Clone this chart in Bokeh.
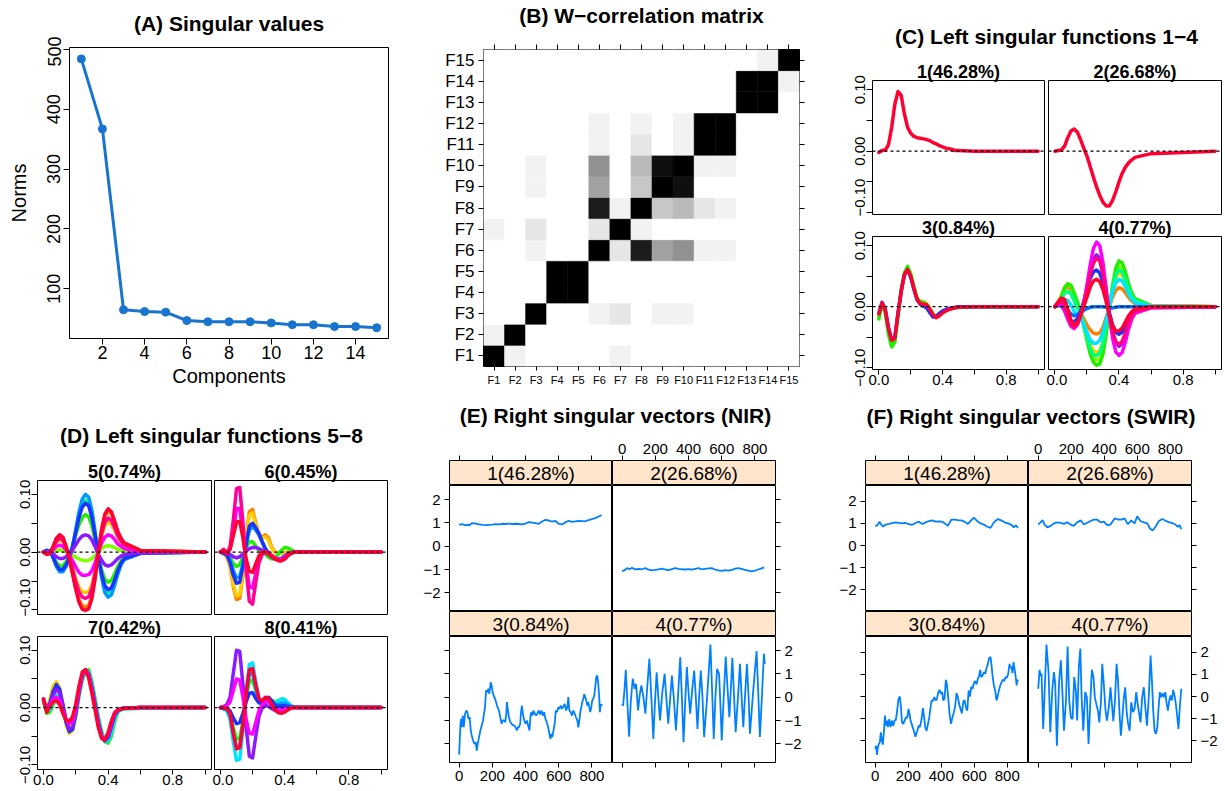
from bokeh.plotting import figure
from bokeh.layouts import row, column
from bokeh.models import (FixedTicker, Span, LinearAxis, Label, Range1d,
                          ColumnDataSource, CustomJSTickFormatter)
from bokeh.embed import file_html
from bokeh.resources import INLINE

FONT = "Liberation Sans"

# ---------------- (A) singular values ----------------
COMPONENTS = list(range(1, 16))
NORMS = [484, 367, 65, 62, 61, 47, 45, 45, 45, 43, 40, 40, 37, 37, 35]

# ---------------- (B) w-correlation matrix (rows F1..F15, cols F1..F15) ----------------
W_LABELS = [f"F{i}" for i in range(1, 16)]
W_CORR = [
    [1, .05, 0, 0, 0, 0, .05, 0, 0, 0, 0, 0, 0, 0, 0],
    [.05, 1, 0, 0, 0, 0, 0, 0, 0, 0, 0, 0, 0, 0, 0],
    [0, 0, 1, 0, 0, .05, .10, 0, .05, .05, 0, 0, 0, 0, 0],
    [0, 0, 0, 1, 1, 0, 0, 0, 0, 0, 0, 0, 0, 0, 0],
    [0, 0, 0, 1, 1, 0, 0, 0, 0, 0, 0, 0, 0, 0, 0],
    [0, 0, .05, 0, 0, 1, .10, .89, .37, .43, .05, .05, 0, 0, 0],
    [.05, 0, .10, 0, 0, .10, 1, .05, 0, 0, 0, 0, 0, 0, 0],
    [0, 0, 0, 0, 0, .89, .05, 1, .22, .27, .10, .05, 0, 0, 0],
    [0, 0, .05, 0, 0, .37, 0, .22, 1, .94, 0, 0, 0, 0, 0],
    [0, 0, .05, 0, 0, .43, 0, .27, .94, 1, .05, .05, 0, 0, 0],
    [0, 0, 0, 0, 0, .05, 0, .10, 0, .05, 1, 1, 0, 0, 0],
    [0, 0, 0, 0, 0, .05, 0, .05, 0, .05, 1, 1, 0, 0, 0],
    [0, 0, 0, 0, 0, 0, 0, 0, 0, 0, 0, 0, 1, 1, 0],
    [0, 0, 0, 0, 0, 0, 0, 0, 0, 0, 0, 0, 1, 1, .05],
    [0, 0, 0, 0, 0, 0, 0, 0, 0, 0, 0, 0, 0, .05, 1],
]

# ---------------- (C)/(D) left singular functions (values x 1000) ----------------
X_GRID = [0.00, 0.02, 0.04, 0.06, 0.08, 0.10, 0.12, 0.14, 0.16, 0.18, 0.20, 0.22, 0.24, 0.26,
          0.28, 0.30, 0.32, 0.34, 0.36, 0.38, 0.40, 0.42, 0.44, 0.46, 0.48, 0.50, 0.60, 1.00]
C_TITLES = ["1(46.28%)", "2(26.68%)", "3(0.84%)", "4(0.77%)"]
D_TITLES = ["5(0.74%)", "6(0.45%)", "7(0.42%)", "8(0.41%)"]

ORANGE, YELLOW, CHART, GREEN, SPRING = "#FF8000", "#FFCC00", "#80FF00", "#22EE00", "#00FF80"
CYAN, AZURE, AZURE2, BLUE, VIOLET = "#00E5FF", "#0099FF", "#0070FF", "#1A33FF", "#8C1AFF"
MAGENTA, PINK, ROSE, TOPRED = "#FF00FF", "#FF0099", "#FF0080", "#FF0033"

C1_COLORS = [TOPRED]
C1_CURVES = [[-2, 1, 2, 10, 38, 76, 97, 91, 61, 39, 29, 24, 22, 21, 20, 19, 17, 14, 12, 9, 7, 5, 4, 3, 1, 1, 0, 0]]
C2_COLORS = [TOPRED]
C2_CURVES = [[0, 1, 2, 8, 22, 33, 36, 31, 19, 5, -8, -25, -42, -58, -72, -83, -89, -89, -80, -66, -50, -36, -26, -19, -14, -10, -4, 0]]
C3_COLORS = [YELLOW, GREEN, BLUE, TOPRED]
C3_CURVES = [
    [-16, 5, -8, -40, -62, -56, -14, 25, 54, 64, 53, 32, 14, 9, 8, 5, -3, -12, -17, -15, -10, -7, -4, -3, -2, -1, 0, 0],
    [-20, 4, -10, -45, -66, -58, -15, 25, 55, 66, 54, 32, 14, 8, 7, 4, -4, -12, -17, -14, -9, -6, -4, -3, -2, -1, 0, 0],
    [-10, 7, -4, -34, -54, -50, -10, 26, 52, 60, 48, 28, 11, 4, 1, -2, -10, -17, -16, -11, -7, -5, -3, -2, -1, 0, 0, 0],
    [-12, 6, -5, -35, -55, -52, -12, 25, 52, 61, 50, 30, 12, 5, 4, 3, -4, -13, -18, -15, -10, -7, -5, -3, -2, -1, 0, 0],
]
C4_COLORS = [ORANGE, YELLOW, CHART, GREEN, SPRING, CYAN, AZURE2, BLUE, VIOLET, MAGENTA, ROSE, TOPRED]
C4_CURVES = [
    [0, 7, 18, 30, 33, 28, 14, 1, -10, -20, -30, -38, -43, -45, -43, -34, -18, 0, 16, 27, 31, 29, 23, 15, 9, 5, 1, 0],
    [0, 6, 18, 32, 37, 33, 18, 4, -10, -27, -46, -62, -72, -75, -72, -58, -32, -2, 27, 47, 55, 52, 41, 27, 16, 9, 1, 0],
    [0, 5, 17, 31, 38, 35, 21, 6, -9, -29, -51, -71, -84, -88, -85, -70, -40, -4, 31, 56, 67, 64, 50, 33, 19, 11, 2, 0],
    [0, 4, 15, 30, 37, 35, 22, 8, -8, -30, -55, -77, -91, -96, -94, -78, -45, -5, 35, 63, 75, 72, 57, 37, 22, 13, 2, 0],
    [0, 3, 12, 22, 25, 21, 10, -2, -14, -32, -50, -68, -79, -80, -76, -60, -33, -2, 30, 52, 60, 57, 45, 29, 17, 10, 1, 0],
    [0, 3, 8, 12, 10, 3, -8, -14, -18, -28, -42, -54, -60, -60, -55, -42, -22, 2, 24, 39, 45, 42, 33, 21, 12, 7, 1, 0],
    [0, 2, 4, 2, -5, -12, -15, -13, -10, -6, -3, -1, 0, 0, 0, 0, -1, -2, -2, -1, 0, 0, 0, 0, 0, 0, 0, 0],
    [0, 2, 2, -6, -16, -24, -25, -20, -8, 8, 28, 46, 57, 60, 55, 40, 16, -10, -30, -42, -45, -42, -32, -20, -11, -6, -1, 0],
    [0, 3, 3, -6, -20, -30, -33, -27, -13, 6, 32, 58, 78, 85, 79, 58, 24, -13, -43, -60, -65, -61, -47, -29, -16, -9, -1, 0],
    [0, 4, 6, -4, -20, -32, -36, -30, -15, 5, 35, 68, 95, 106, 100, 72, 30, -15, -52, -74, -80, -75, -58, -36, -20, -11, -2, 0],
    [0, 6, 9, 2, -13, -28, -34, -29, -15, 3, 27, 52, 71, 80, 75, 53, 21, -14, -41, -57, -62, -57, -43, -27, -14, -8, -1, 0],
    [0, 8, 14, 12, -4, -22, -30, -26, -14, 0, 16, 32, 42, 45, 41, 28, 8, -14, -31, -40, -40, -35, -25, -15, -8, -4, 0, 0],
]
D5_COLORS = [ORANGE, YELLOW, CHART, GREEN, SPRING, AZURE, BLUE, VIOLET, MAGENTA, PINK, TOPRED]
D5_CURVES = [
    [0, -4, -2, 9, 23, 28, 24, 9, -11, -36, -61, -82, -93, -95, -92, -75, -42, 0, 38, 62, 70, 66, 51, 34, 23, 15, 3, 0],
    [0, -3, -1, 7, 17, 21, 18, 7, -8, -27, -46, -61, -69, -70, -68, -56, -32, 0, 28, 46, 52, 48, 38, 25, 17, 11, 2, 0],
    [0, -1, 0, 1, 3, 4, 3, 1, -1, -5, -9, -12, -14, -15, -14, -11, -6, 0, 6, 10, 11, 10, 8, 5, 3, 2, 0, 0],
    [0, 2, 1, -7, -18, -24, -24, -17, -6, 10, 30, 48, 60, 65, 61, 46, 20, -8, -31, -47, -52, -49, -38, -25, -15, -9, -1, 0],
    [0, 3, 2, -9, -23, -31, -31, -23, -9, 9, 36, 63, 83, 90, 85, 65, 31, -7, -40, -63, -70, -67, -52, -34, -20, -12, -2, 0],
    [0, 3, 2, -10, -25, -34, -34, -25, -10, 10, 40, 70, 92, 100, 95, 72, 35, -8, -45, -70, -78, -74, -58, -38, -22, -13, -2, 0],
    [0, 3, 2, -9, -22, -30, -30, -22, -9, 9, 34, 60, 78, 85, 80, 60, 28, -8, -38, -58, -65, -62, -49, -32, -19, -11, -2, 0],
    [0, 1, 1, -3, -8, -11, -11, -8, -3, 4, 13, 22, 28, 30, 28, 21, 9, -4, -14, -22, -24, -22, -17, -11, -7, -4, -1, 0],
    [0, -2, -1, 4, 10, 12, 10, 4, -5, -15, -26, -35, -40, -40, -39, -32, -18, 0, 16, 26, 30, 28, 22, 14, 10, 6, 1, 0],
    [0, -3, -2, 8, 19, 24, 21, 8, -9, -30, -51, -69, -78, -80, -77, -63, -36, 0, 32, 52, 59, 55, 43, 28, 19, 13, 2, 0],
    [0, -4, -2, 10, 24, 30, 26, 10, -12, -38, -65, -87, -99, -101, -98, -80, -45, 0, 40, 66, 75, 70, 54, 36, 24, 16, 3, 0],
]
D6_COLORS = [ORANGE, YELLOW, GREEN, AZURE, BLUE, VIOLET, MAGENTA, PINK, TOPRED]
D6_CURVES = [
    [0, -3, -8, -25, -60, -82, -80, -40, 25, 70, 74, 50, 30, 26, 30, 24, 8, 0, -2, -2, -1, 0, 0, 0, 0, 0, 0, 0],
    [0, -3, -7, -22, -55, -76, -74, -36, 22, 64, 68, 46, 28, 24, 27, 20, 6, -1, -2, -2, -1, 0, 0, 0, 0, 0, 0, 0],
    [0, -1, -3, -10, -20, -25, -22, -8, 8, 18, 18, 10, 3, 0, -4, -9, -12, -10, -4, 3, 8, 7, 4, 1, 0, 0, 0, 0],
    [0, -2, -4, -14, -32, -44, -42, -20, 12, 38, 44, 38, 30, 17, 5, -3, -9, -12, -13, -11, -7, -3, -1, 0, 0, 0, 0, 0],
    [0, -2, -5, -18, -40, -54, -52, -25, 15, 45, 50, 42, 32, 18, 6, -2, -8, -12, -13, -12, -8, -4, -1, 0, 0, 0, 0, 0],
    [0, 0, 0, -4, -8, -10, -8, -3, 2, 6, 8, 8, 6, 3, 0, -4, -8, -11, -12, -11, -7, -3, -1, 0, 0, 0, 0, 0],
    [0, 3, 0, 5, 35, 75, 75, 32, -20, -60, -62, -36, -12, -3, 0, -2, -6, -10, -13, -13, -10, -5, -2, 0, 0, 0, 0, 0],
    [0, 5, -3, 10, 55, 110, 112, 52, -30, -85, -90, -52, -18, -4, 1, -1, -6, -10, -14, -15, -12, -6, -2, 0, 0, 0, 0, 0],
    [0, 3, -2, 5, 28, 52, 53, 25, -12, -33, -35, -20, -6, 0, 0, -3, -8, -12, -15, -15, -12, -6, -2, 0, 0, 0, 0, 0],
]
D7_COLORS = [YELLOW, GREEN, CYAN, BLUE, VIOLET, MAGENTA, TOPRED]
D7_CURVES = [
    [15, -5, 15, 38, 45, 35, 5, -30, -45, -40, -10, 30, 58, 66, 55, 30, 0, -30, -52, -60, -54, -35, -15, -6, -3, -1, 0, 0],
    [10, -10, -8, 5, 15, 12, -5, -25, -40, -38, -15, 20, 48, 62, 66, 45, 15, -18, -42, -58, -62, -50, -25, -8, -4, -2, -1, 0],
    [12, -6, -4, 10, 22, 20, 0, -22, -38, -36, -12, 24, 52, 64, 62, 40, 10, -22, -46, -59, -58, -44, -20, -7, -3, -2, -1, 0],
    [14, -4, 8, 28, 40, 32, 5, -25, -42, -38, -10, 28, 56, 66, 58, 34, 4, -26, -50, -58, -52, -34, -14, -5, -3, -1, 0, 0],
    [14, -4, 6, 22, 32, 26, 4, -22, -38, -34, -8, 28, 55, 66, 58, 33, 3, -28, -50, -57, -50, -32, -13, -5, -2, -1, 0, 0],
    [15, -6, 4, 14, 18, 12, -6, -22, -28, -24, -2, 32, 58, 66, 55, 28, -2, -32, -52, -56, -46, -26, -10, -4, -2, -1, 0, 0],
    [15, -8, 2, 10, 12, 5, -10, -22, -24, -16, 6, 38, 62, 66, 52, 25, -5, -35, -54, -56, -44, -24, -9, -4, -2, -1, 0, 0],
]
D8_COLORS = [GREEN, CYAN, AZURE, BLUE, VIOLET, MAGENTA, TOPRED]
D8_CURVES = [
    [0, -1, -3, -12, -35, -55, -54, -24, 18, 46, 48, 30, 12, 8, 14, 16, 12, 10, 12, 15, 14, 8, 3, 1, 0, 0, 0, 0],
    [0, -2, -5, -20, -60, -92, -90, -40, 30, 75, 78, 45, 15, 5, 8, 10, 8, 8, 12, 15, 14, 8, 3, 1, 0, 0, 0, 0],
    [0, -2, -4, -15, -45, -70, -68, -30, 22, 58, 60, 35, 12, 5, 10, 14, 10, 6, 6, 8, 8, 5, 2, 1, 0, 0, 0, 0],
    [0, -1, -2, -6, -18, -28, -26, -10, 10, 25, 26, 16, 8, 8, 14, 18, 12, 4, 2, 3, 3, 2, 1, 0, 0, 0, 0, 0],
    [0, 2, 5, 18, 60, 100, 98, 40, -35, -85, -88, -50, -15, 0, 4, 2, -2, -5, -6, -5, -3, -1, 0, 0, 0, 0, 0, 0],
    [0, 1, 3, 10, 30, 50, 48, 18, -20, -45, -46, -26, -5, 5, 10, 10, 4, -2, -4, -4, -2, -1, 0, 0, 0, 0, 0, 0],
    [0, 0, -2, -10, -45, -72, -70, -30, 25, 66, 68, 40, 15, 12, 18, 16, 6, -4, -9, -10, -8, -4, -1, 0, 0, 0, 0, 0],
]

# ---------------- (E)/(F) right singular vectors ----------------
PCT = ["1(46.28%)", "2(26.68%)", "3(0.84%)", "4(0.77%)"]
V_TICKS_X = [0, 200, 400, 600, 800]
V_TICKS_Y = [-2, -1, 0, 1, 2]

E1_X = [0, 10, 20, 30, 40, 50, 60, 70, 80, 90, 100, 120, 140, 160, 180, 200, 220, 240, 260, 280, 300,
        320, 340, 360, 380, 400, 420, 440, 460, 480, 500, 520, 540, 560, 580, 600, 620, 640, 660, 680,
        700, 720, 740, 760, 780, 800, 820, 840, 858]
E1_Y = [0.93, 0.92, 0.95, 0.91, 0.89, 0.93, 0.88, 0.95, 0.99, 0.98, 0.97, 0.93, 0.91, 0.90, 0.91, 0.92,
        0.94, 0.93, 0.96, 0.95, 0.97, 0.95, 0.96, 0.95, 0.93, 0.97, 1.03, 1.01, 0.99, 0.96, 1.06, 1.13,
        1.10, 1.05, 1.08, 0.96, 0.93, 1.02, 1.09, 1.04, 1.06, 1.08, 1.07, 1.06, 1.12, 1.16, 1.20, 1.27, 1.33]
E2_X = [0, 15, 30, 45, 60, 80, 100, 120, 140, 160, 180, 200, 220, 240, 260, 280, 300, 320, 340, 360,
        380, 400, 420, 440, 460, 480, 500, 520, 540, 560, 580, 600, 620, 640, 660, 680, 700, 720, 740,
        760, 780, 800, 820, 840, 856]
E2_Y = [-1.07, -1.03, -0.94, -0.98, -0.93, -1.0, -0.97, -0.99, -0.94, -1.01, -1.04, -1.02, -0.99, -0.96,
        -1.0, -1.03, -0.98, -0.94, -0.97, -0.99, -1.0, -0.98, -1.01, -0.97, -0.94, -0.99, -0.97, -0.95,
        -0.94, -1.0, -1.04, -1.06, -1.03, -1.05, -1.02, -0.96, -0.94, -0.97, -1.02, -1.05, -1.08, -1.05,
        -1.0, -0.95, -0.91]
E3_X = [0, 8, 12, 16, 22, 28, 36, 44, 50, 56, 64, 70, 76, 84, 92, 100, 106, 112, 120, 128,
        136, 144, 150, 156, 162, 168, 176, 182, 190, 196, 202, 212, 220, 228, 236, 242, 248, 256, 262, 270,
        278, 284, 288, 294, 300, 308, 316, 324, 332, 340, 348, 354, 360, 368, 372, 378, 384, 392, 400, 408,
        416, 424, 430, 436, 442, 448, 456, 464, 472, 480, 488, 496, 504, 512, 520, 528, 536, 544, 550, 556,
        562, 568, 576, 582, 590, 598, 604, 612, 620, 628, 636, 644, 652, 658, 664, 672, 680, 688, 696, 704,
        712, 718, 724, 730, 736, 742, 748, 754, 760, 766, 772, 778, 784, 790, 796, 802, 808, 814, 820, 826,
        832, 838, 844, 848, 852, 858, 862]
E3_Y = [-2.46, -1.14, -0.93, -1.29, -0.79, -1.29, -0.71, -0.57, -0.64, -0.93,
        -0.86, -1.43, -1.64, -1.86, -2.0, -1.93, -2.29, -2.0, -1.71, -1.43,
        -1.21, -1.0, -0.71, -0.43, 0.29, 0.21, 0.36, 0.14, 0.64, 0.5,
        0.21, 0.0, -0.14, -0.36, -0.5, -0.64, -0.86, -1.14, -1.0, -1.0,
        -1.07, -0.71, -0.21, -0.57, -0.86, -1.07, -1.14, -1.21, -1.21, -1.29,
        -1.43, -1.29, -1.29, -1.14, -0.71, -0.36, -0.71, -1.0, -1.14, -1.0,
        -1.21, -1.43, -0.79, -0.64, -0.79, -0.57, -0.71, -0.79, -0.69, -0.57,
        -0.74, -0.57, -0.79, -0.64, -0.93, -1.07, -1.29, -1.57, -1.79, -1.57,
        -1.71, -1.43, -1.14, -0.57, -0.64, -0.43, -0.5, -0.36, -0.5, -0.4,
        -0.29, -0.57, -0.43, 0.0, -0.57, -0.64, -0.79, -0.57, -0.71, -0.86,
        -1.0, -1.29, -1.0, -0.64, -0.43, -0.21, -0.07, 0.14, 0.0, -0.14,
        -0.36, -0.21, -0.43, -0.64, -0.43, -0.14, -0.07, 0.07, 0.43, 0.86,
        0.93, 0.57, 0.0, -0.64, -0.36, -0.31, -0.36]
E4_X = [0, 6, 14, 22, 30, 42, 52, 64, 76, 84, 96, 106, 116, 128, 140, 152, 164, 176, 188, 198,
        208, 218, 228, 242, 256, 266, 278, 290, 300, 312, 324, 338, 350, 360, 370, 380, 390, 400, 410, 422,
        434, 444, 454, 464, 474, 484, 494, 512, 532, 542, 552, 562, 572, 584, 592, 600, 612, 624, 634, 646,
        656, 664, 674, 684, 698, 710, 720, 730, 740, 752, 762, 770, 790, 810, 820, 830, 842, 854, 860]
E4_Y = [-0.29, -0.36, 0.3, 1.17, 0.0, -1.69, -0.2, 0.79, 0.36, 0.57,
        -0.57, 0.1, 0.5, 0.0, -0.71, 0.5, 1.64, 0.0, -1.79, -0.2,
        1.07, 0.0, -1.0, 0.2, 1.0, 0.0, -1.14, 0.0, 0.93, -0.1,
        -1.43, 0.2, 1.71, 0.0, -1.93, -0.2, 1.29, 0.2, -0.71, 0.3,
        1.14, 0.0, -1.36, 0.0, 1.14, 0.0, -1.71, 0.0, 2.26, 0.3,
        -1.79, 0.0, 1.21, 1.0, -0.3, -1.86, 0.0, 1.74, 0.5, -0.86,
        0.5, 1.69, 0.1, -1.5, 0.0, 1.43, 0.0, -1.29, 0.0, 1.43,
        0.0, -1.57, 0.3, 1.97, 0.2, -1.71, 0.0, 1.86, 1.43]
F1_X = [0, 12, 26, 36, 48, 63, 83, 103, 123, 143, 164, 184, 204, 224, 244, 265, 285, 305, 325, 345,
        366, 386, 406, 426, 440, 461, 481, 501, 521, 541, 562, 582, 598, 618, 638, 658, 679, 699, 719, 743,
        764, 784, 804, 824, 840, 853, 865]
F1_Y = [0.88, 0.91, 1.08, 0.95, 0.86, 0.95, 0.98, 1.02, 1.05, 1.03, 1.0, 1.02, 0.97, 0.94, 1.02, 1.08,
        0.97, 1.05, 1.11, 1.14, 1.08, 1.09, 1.08, 0.98, 0.89, 1.17, 1.17, 1.15, 1.14, 1.08, 0.98, 1.15,
        1.26, 1.11, 1.0, 0.95, 0.85, 0.8, 1.05, 1.2, 1.14, 1.05, 1.0, 0.95, 0.82, 0.92, 0.8]
F2_X = [0, 14, 26, 38, 55, 75, 95, 115, 135, 156, 176, 196, 216, 236, 257, 277, 297, 317, 337, 358,
        378, 398, 418, 438, 463, 483, 503, 523, 543, 564, 584, 600, 620, 640, 661, 677, 693, 711, 731, 752,
        772, 792, 812, 832, 846, 857, 867]
F2_Y = [0.95, 1.05, 1.15, 0.95, 0.82, 0.89, 1.0, 1.05, 1.03, 0.98, 1.05, 0.95, 0.89, 1.05, 1.14, 0.95,
        1.03, 1.11, 1.17, 1.17, 1.05, 1.08, 0.92, 0.95, 1.23, 1.18, 1.17, 1.23, 0.97, 1.14, 1.0, 1.32,
        1.11, 1.05, 1.0, 0.77, 0.68, 0.85, 1.11, 1.2, 1.12, 1.06, 1.02, 0.95, 0.85, 0.92, 0.74]
F3_X = [0, 6, 10, 16, 22, 28, 34, 40, 46, 53, 59, 65, 71, 77, 85, 93, 101, 109, 117, 125,
        133, 141, 149, 156, 162, 170, 178, 186, 194, 202, 208, 214, 224, 234, 244, 255, 263, 271, 281, 289,
        295, 303, 311, 319, 327, 335, 341, 349, 358, 366, 374, 382, 390, 398, 406, 412, 420, 428, 434, 442,
        450, 459, 467, 477, 485, 493, 501, 509, 517, 525, 533, 541, 549, 558, 566, 574, 582, 590, 598, 606,
        614, 622, 630, 636, 642, 650, 659, 667, 675, 683, 691, 699, 705, 711, 719, 727, 735, 741, 749, 758,
        766, 774, 782, 790, 798, 806, 814, 820, 826, 832, 838, 846, 853, 857, 861, 869]
F3_Y = [-2.38, -2.23, -2.64, -2.3, -2.15, -2.08, -1.62, -2.0, -2.18, -1.55,
        -0.86, -1.32, -1.09, -1.39, -1.02, -1.39, -1.09, -1.32, -1.09, -1.06,
        -0.64, -0.11, 0.0, -0.48, -1.17, -1.24, -1.09, -0.94, -0.97, -0.56,
        -0.79, -1.09, -1.32, -1.55, -1.82, -1.55, -1.32, -1.39, -1.02, -0.52,
        -0.86, -1.39, -1.55, -1.27, -0.97, -0.52, -0.18, -0.21, -0.03, -0.18,
        -0.11, 0.2, 0.3, 0.12, 0.2, -0.18, -0.11, 0.76, 0.58, -0.03,
        -0.76, -1.24, -0.97, -0.71, -0.41, 0.15, -0.03, -0.36, -0.56, -0.76,
        -0.26, -0.15, -0.48, -0.64, 0.27, 0.0, 0.45, 0.35, 0.61, 0.7,
        0.55, 0.8, 0.95, 1.21, 0.88, 0.95, 1.11, 1.03, 1.3, 1.48,
        1.76, 1.79, 1.41, 0.95, 0.5, 0.27, -0.18, -0.03, 0.27, 0.5,
        0.65, 0.76, 0.7, 0.88, 0.85, 1.03, 1.48, 1.3, 1.36, 1.06,
        1.56, 1.18, 0.8, 0.5, 0.73, 0.73]
F4_X = [0, 8, 14, 20, 30, 36, 50, 63, 73, 85, 95, 103, 113, 127, 137, 147, 156, 168, 178, 188,
        198, 208, 218, 228, 236, 246, 255, 263, 273, 285, 295, 305, 317, 325, 335, 343, 354, 362, 370, 380,
        388, 398, 408, 416, 428, 438, 446, 455, 465, 475, 483, 493, 501, 511, 519, 527, 537, 545, 554, 564,
        574, 584, 594, 604, 612, 620, 630, 640, 650, 659, 669, 681, 689, 697, 705, 713, 721, 729, 737, 745,
        754, 762, 770, 778, 786, 794, 802, 810, 818, 826, 834, 842, 850, 858, 867]
F4_Y = [0.35, 1.21, 0.95, 1.03, -1.47, -0.33, 2.36, 1.03, -1.62, 0.27,
        1.11, 0.58, -2.23, 0.73, 1.64, 0.12, -1.55, -0.18, 2.27, -0.18,
        -0.97, -1.02, 0.88, 0.27, -1.09, 1.33, 2.17, -0.03, -1.55, 0.2,
        -0.03, -2.15, -0.03, 1.21, 0.88, -0.03, -0.41, -0.64, -1.17, -0.26,
        1.48, 0.5, -0.64, -1.09, -0.48, 0.42, -0.3, -1.12, -0.18, 1.48,
        0.8, -0.79, -1.77, -0.86, -0.03, 0.42, -0.79, -1.24, -1.55, -0.26,
        -0.71, -0.56, 0.2, -0.41, -0.79, -1.17, -0.03, 0.42, -0.56, -1.32,
        -0.18, 1.86, 0.73, -0.64, -1.55, -1.7, -1.42, -0.56, 0.2, -0.03,
        0.15, -0.03, 0.2, -0.3, -0.64, -0.18, 0.05, -0.18, 0.3, 0.05,
        -0.33, -0.86, -1.47, -0.48, 0.35]

# ---------------- styling helpers ----------------
BLUE_A = "#1874CD"
LINE_BLUE = "#0080FF"
STRIP_BG = "#FFE5CC"
DEC2 = "return tick < -1e-9 ? '\u2212' + Math.abs(tick).toFixed(2) : Math.abs(tick).toFixed(2);"
DEC1 = "return Math.abs(tick).toFixed(1);"
INT0 = "return tick < 0 ? '\u2212' + Math.abs(tick).toFixed(0) : tick.toFixed(0);"


def base_fig(w, h, l, r, t, b, xr=(0, 1), yr=(0, 1), xloc=None, yloc=None):
    p = figure(width=w, height=h, x_range=Range1d(*xr), y_range=Range1d(*yr),
               x_axis_location=xloc, y_axis_location=yloc, title="",
               toolbar_location=None, output_backend="svg")
    p.min_border_left = l
    p.min_border_right = r
    p.min_border_top = t
    p.min_border_bottom = b
    p.xgrid.visible = False
    p.ygrid.visible = False
    p.outline_line_color = "black"
    p.outline_line_width = 1
    p.background_fill_color = "white"
    p.border_fill_color = "white"
    return p


def set_title(p, text, size, standoff):
    p.title.text = text
    p.title.text_font = FONT
    p.title.text_font_size = f"{size}px"
    p.title.text_font_style = "bold"
    p.title.text_color = "black"
    p.title.align = "center"
    p.title.standoff = standoff


def style_axis(ax, ticks, minor=None, size=15, tick_out=6, standoff=3, labels=True, vertical=False):
    minor = list(minor or [])
    if labels:
        ax.ticker = FixedTicker(ticks=list(ticks), minor_ticks=minor)
    else:
        ax.ticker = FixedTicker(ticks=[], minor_ticks=list(ticks) + minor)
        minor = list(ticks) + minor
    ax.axis_line_color = None
    ax.major_tick_line_color = "black"
    ax.major_tick_out = tick_out
    ax.major_tick_in = 0
    if minor:
        ax.minor_tick_line_color = "black"
        ax.minor_tick_out = tick_out
        ax.minor_tick_in = 0
    else:
        ax.minor_tick_line_color = None
    ax.major_label_text_font = FONT
    ax.major_label_text_color = "black"
    ax.major_label_text_font_size = f"{size}px"
    ax.major_label_standoff = standoff if labels else 0
    if vertical:
        ax.major_label_orientation = "vertical"


def title_fig(w, h, text, standoff, l=0, r=0):
    # a frameless strip that only carries a panel heading; l/r borders centre it
    p = base_fig(w, h, l, r, h - 1, 0)
    p.outline_line_color = None
    set_title(p, text, 21, standoff)
    return p


# ---------------- (A) ----------------
pAt = title_fig(410, 36, "(A) Singular values", 1, l=46)
pA = base_fig(410, 356, 69, 22, 11, 54, (0.44, 15.56), (17, 503), xloc="below", yloc="left")
style_axis(pA.xaxis[0], [2, 4, 6, 8, 10, 12, 14], size=18, tick_out=6, standoff=1)
style_axis(pA.yaxis[0], [100, 200, 300, 400, 500], size=18, tick_out=6, standoff=3, vertical=True)
for ax, lab, so in ((pA.xaxis[0], "Components", 3), (pA.yaxis[0], "Norms", 15)):
    ax.axis_label = lab
    ax.axis_label_text_font = FONT
    ax.axis_label_text_font_size = "20px"
    ax.axis_label_text_font_style = "normal"
    ax.axis_label_text_color = "black"
    ax.axis_label_standoff = so
pA.line(COMPONENTS, NORMS, line_color=BLUE_A, line_width=3)
pA.scatter(COMPONENTS, NORMS, size=8, fill_color=BLUE_A, line_color=BLUE_A)
colA = column(pAt, pA)

# ---------------- (B) ----------------
pBt = title_fig(420, 28, "(B) W\u2212correlation matrix", 1, l=16)
pB = base_fig(420, 364, 73, 31, 21, 26, (0.5, 15.5), (0.5, 15.5), xloc="below", yloc="left")
bx, by, bc = [], [], []
for i, rowvals in enumerate(W_CORR):
    for j, w in enumerate(rowvals):
        g = int(round(255 * (1 - w)))
        bx.append(j + 1)
        by.append(i + 1)
        bc.append(f"#{g:02X}{g:02X}{g:02X}")
pB.rect(x="x", y="y", width=1, height=1, source=ColumnDataSource(dict(x=bx, y=by, c=bc)),
        fill_color="c", line_color="c", line_width=0.6)
style_axis(pB.xaxis[0], list(range(1, 16)), size=11, tick_out=4, standoff=3)
style_axis(pB.yaxis[0], list(range(1, 16)), size=17, tick_out=5, standoff=4)
flab = "var L = " + str(W_LABELS) + "; return L[Math.round(tick) - 1];"
pB.xaxis[0].formatter = CustomJSTickFormatter(code=flab)
pB.yaxis[0].formatter = CustomJSTickFormatter(code=flab)
for loc in ("above", "right"):
    ax = LinearAxis()
    pB.add_layout(ax, loc)
    style_axis(ax, list(range(1, 16)), tick_out=5, labels=False)
colB = column(pBt, pB)


# ---------------- (C)/(D) ----------------
def func_fig(w, h, l, r, t, b, xr, yr, curves, colors, title, t_so, show_x, show_y):
    p = base_fig(w, h, l, r, t, b, xr, yr,
                 xloc="below" if show_x else None, yloc="left" if show_y else None)
    xs = [X_GRID for _ in curves]
    ys = [[v / 1000.0 for v in c] for c in curves]
    p.multi_line(xs=xs, ys=ys, line_color=colors, line_width=3.5,
                 line_join="round", line_cap="round")
    p.add_layout(Span(location=0, dimension="width", line_color="black",
                      line_dash="3 3", line_width=1.2))
    set_title(p, title, 18, t_so)
    if show_x:
        style_axis(p.xaxis[0], [0, 0.4, 0.8], minor=[0.2, 0.6, 1.0], size=15, tick_out=5, standoff=0)
        p.xaxis[0].formatter = CustomJSTickFormatter(code=DEC1)
    if show_y:
        style_axis(p.yaxis[0], [-0.1, 0, 0.1], minor=[-0.05, 0.05], size=15, tick_out=6,
                   standoff=1, vertical=True)
        p.yaxis[0].formatter = CustomJSTickFormatter(code=DEC2)
    return p


CXR, CYR = (-0.04, 1.04), (-0.103, 0.115)
pCt = title_fig(395, 50, "(C) Left singular functions 1\u22124", 4, l=37)
pC1 = func_fig(216, 166, 42, 2, 30, 2, CXR, CYR, C1_CURVES, C1_COLORS, C_TITLES[0], -3, False, True)
pC2 = func_fig(179, 166, 2, 4, 30, 2, CXR, CYR, C2_CURVES, C2_COLORS, C_TITLES[1], -3, False, False)
pC3 = func_fig(216, 176, 42, 2, 20, 23, CXR, CYR, C3_CURVES, C3_COLORS, C_TITLES[2], -3, True, True)
pC4 = func_fig(179, 176, 2, 4, 20, 23, CXR, CYR, C4_CURVES, C4_COLORS, C_TITLES[3], -3, True, False)
colC = column(pCt, row(pC1, pC2), row(pC3, pC4))

DXR, DYR = (-0.037, 1.04), (-0.108, 0.124)
pDt = title_fig(410, 56, "(D) Left singular functions 5\u22128", 2, l=12)
pD5 = func_fig(212, 168, 37, 1, 32, 2, DXR, DYR, D5_CURVES, D5_COLORS, D_TITLES[0], -2, False, True)
pD6 = func_fig(198, 168, 2, 23, 32, 2, DXR, DYR, D6_CURVES, D6_COLORS, D_TITLES[1], -2, False, False)
pD7 = func_fig(212, 175, 37, 1, 20, 22, DXR, DYR, D7_CURVES, D7_COLORS, D_TITLES[2], -3, True, True)
pD8 = func_fig(198, 175, 2, 23, 20, 22, DXR, DYR, D8_CURVES, D8_COLORS, D_TITLES[3], -3, True, False)
colD = column(pDt, row(pD5, pD6), row(pD7, pD8))


# ---------------- (E)/(F) ----------------
def strip(p, text, xr):
    p.background_fill_color = STRIP_BG
    p.add_layout(Label(x=(xr[0] + xr[1]) / 2, y=0.5, text=text, text_align="center",
                       text_baseline="middle", text_font=FONT, text_font_size="19px",
                       text_color="black"))


def vy(ax, labels):
    style_axis(ax, V_TICKS_Y, size=15, tick_out=5, standoff=4, labels=labels)
    ax.formatter = CustomJSTickFormatter(code=INT0)


def vx(ax, labels, standoff=3):
    style_axis(ax, V_TICKS_X, size=15, tick_out=5, standoff=standoff, labels=labels)


def vec_block(title, t_so, t_l, t_r, xr, yr, w1, w2, l1, r2, xs, ys):
    pt = title_fig(w1 + w2, 36, title, t_so, l=t_l, r=t_r)
    s1 = base_fig(w1, 57, l1, 0, 32, 0, xr, (0, 1), xloc="above")
    vx(s1.xaxis[0], False)
    s2 = base_fig(w2, 57, 0, r2, 32, 0, xr, (0, 1), xloc="above")
    vx(s2.xaxis[0], True, standoff=2)
    s3 = base_fig(w1, 25, l1, 0, 0, 0, xr, (0, 1))
    s4 = base_fig(w2, 25, 0, r2, 0, 0, xr, (0, 1))
    for s, txt in zip((s1, s2, s3, s4), PCT):
        strip(s, txt, xr)
    p1 = base_fig(w1, 126, l1, 0, 0, 0, xr, yr, yloc="left")
    vy(p1.yaxis[0], True)
    p2 = base_fig(w2, 126, 0, r2, 0, 0, xr, yr, yloc="right")
    vy(p2.yaxis[0], False)
    p3 = base_fig(w1, 155, l1, 0, 0, 29, xr, yr, xloc="below", yloc="left")
    vy(p3.yaxis[0], False)
    vx(p3.xaxis[0], True)
    p4 = base_fig(w2, 155, 0, r2, 0, 29, xr, yr, xloc="below", yloc="right")
    vy(p4.yaxis[0], True)
    vx(p4.xaxis[0], False)
    for p, x, y in zip((p1, p2, p3, p4), xs, ys):
        p.line(x, y, line_color=LINE_BLUE, line_width=1.8)
    return column(pt, row(s1, s2), row(p1, p2), row(s3, s4), row(p3, p4))


colE = vec_block("(E) Right singular vectors (NIR)", 1, 0, 10, (-58, 924), (-2.8, 2.6),
                 202, 218, 39, 55, [E1_X, E2_X, E3_X, E4_X], [E1_Y, E2_Y, E3_Y, E4_Y])
colF = vec_block("(F) Right singular vectors (SWIR)", 0, 6, 0, (-59, 929), (-2.99, 2.72),
                 198, 197, 35, 34, [F1_X, F2_X, F3_X, F4_X], [F1_Y, F2_Y, F3_Y, F4_Y])

root = column(row(colA, colB, colC), row(colD, colE, colF))
open("out.html", "w").write(file_html(root, INLINE))
